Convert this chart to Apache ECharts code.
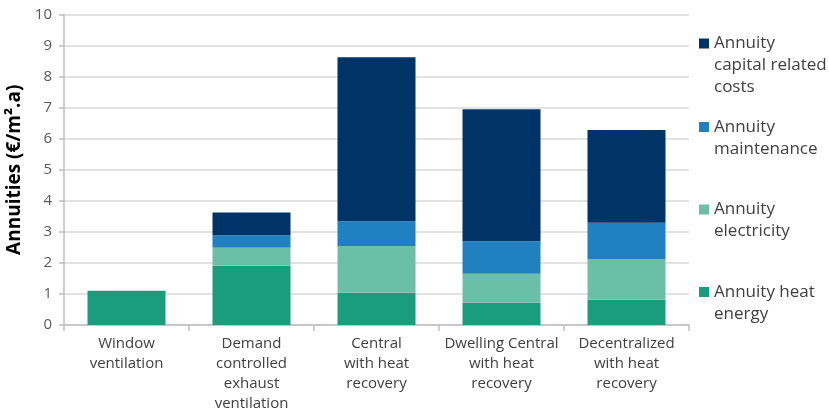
<!DOCTYPE html>
<html>
<head>
<meta charset="utf-8">
<script src="https://cdn.jsdelivr.net/npm/echarts@6/dist/echarts.min.js"></script>
<style>
  html, body { margin: 0; padding: 0; background: #ffffff; }
  #chart { width: 829px; height: 411px; }
</style>
</head>
<body>
<div id="chart"></div>
<script>
// Ventilation systems compared by annual cost components (€/m².a)
const categories = [
  'Window\nventilation',
  'Demand\ncontrolled\nexhaust\nventilation',
  'Central\nwith heat\nrecovery',
  'Dwelling Central\nwith heat\nrecovery',
  'Decentralized\nwith heat\nrecovery'
];

const heatEnergy   = [1.10, 1.91, 1.04, 0.72, 0.81];
const electricity  = [0,    0.59, 1.50, 0.93, 1.31];
const maintenance  = [0,    0.39, 0.80, 1.05, 1.17];
const capitalCosts = [0,    0.73, 5.28, 4.25, 2.99];

const yTicks = [0, 1, 2, 3, 4, 5, 6, 7, 8, 9, 10];

const seriesNames = [
  'Annuity heat energy',
  'Annuity electricity',
  'Annuity maintenance',
  'Annuity capital related costs'
];
const legendText = {
  'Annuity capital related costs': 'Annuity\ncapital related\ncosts',
  'Annuity maintenance': 'Annuity\nmaintenance',
  'Annuity electricity': 'Annuity\nelectricity',
  'Annuity heat energy': 'Annuity heat\nenergy'
};
const colors = ['#199D7D', '#6CBFA7', '#2080C0', '#003467'];

const FONT = '"Open Sans", "Noto Sans", sans-serif';
const LH = 22;

// one legend block per series so the entries sit evenly spaced;
// leading blank lines put the marker level with the first text line
function legendFor(name, iconY) {
  const lines = legendText[name].split('\n');
  const pad = new Array(lines.length - 1).fill('').join('\n');
  const total = 2 * lines.length - 1;
  return {
    data: [name],
    orient: 'vertical',
    left: 699,
    top: iconY - total * LH / 2,
    padding: 0,
    icon: 'rect',
    itemWidth: 10,
    itemHeight: 10,
    selectedMode: false,
    formatter: n => pad + '\n' + legendText[n],
    textStyle: {
      fontFamily: FONT,
      fontSize: 17,
      color: '#404040',
      lineHeight: LH
    }
  };
}

const chart = echarts.init(document.getElementById('chart'), null, { renderer: 'canvas' });

chart.setOption({
  animation: false,
  backgroundColor: '#ffffff',
  color: colors,
  grid: { left: 64, right: 140, top: 14.5, bottom: 86, containLabel: false, outerBoundsMode: 'none' },
  legend: [
    legendFor('Annuity capital related costs', 43.5),
    legendFor('Annuity maintenance', 127),
    legendFor('Annuity electricity', 209.5),
    legendFor('Annuity heat energy', 292)
  ],
  xAxis: {
    type: 'category',
    data: categories,
    axisLine: { show: true, lineStyle: { color: '#bfbfbf', width: 1.5 } },
    axisTick: { show: true, alignWithLabel: false, length: 6, lineStyle: { color: '#bfbfbf', width: 1.5 } },
    axisLabel: {
      interval: 0,
      margin: 9,
      fontFamily: FONT,
      fontSize: 15,
      lineHeight: 20,
      color: '#404040'
    }
  },
  yAxis: {
    type: 'value',
    min: yTicks[0],
    max: yTicks[yTicks.length - 1],
    interval: 1,
    name: 'Annuities (€/m².a)',
    nameLocation: 'middle',
    nameGap: 38,
    nameRotate: 90,
    nameTextStyle: {
      fontFamily: FONT,
      fontSize: 19,
      fontWeight: 'bold',
      color: '#000000'
    },
    axisLine: { show: true, lineStyle: { color: '#bfbfbf', width: 1.5 } },
    axisTick: { show: true, length: 5, lineStyle: { color: '#bfbfbf', width: 1.5 } },
    axisLabel: {
      margin: 12,
      fontFamily: FONT,
      fontSize: 15,
      color: '#595959'
    },
    splitLine: { show: true, lineStyle: { color: '#d9d9d9', width: 1.5 } }
  },
  series: [heatEnergy, electricity, maintenance, capitalCosts].map((vals, i) => ({
    name: seriesNames[i],
    type: 'bar',
    stack: 'total',
    barWidth: '62.4%',
    data: vals,
    itemStyle: { color: colors[i] }
  }))
});
</script>
</body>
</html>
